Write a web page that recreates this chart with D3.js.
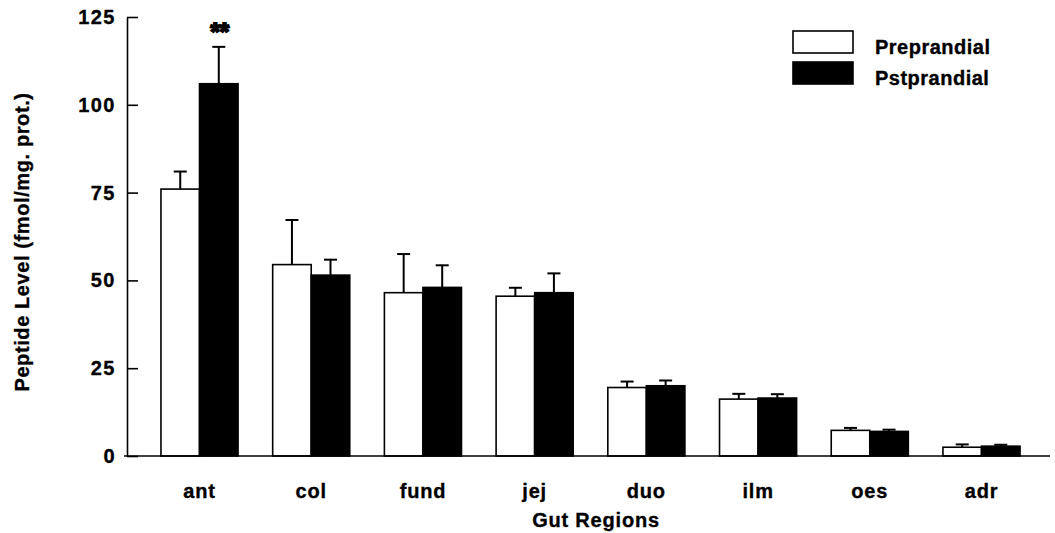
<!DOCTYPE html>
<html>
<head>
<meta charset="utf-8">
<script src="https://cdn.jsdelivr.net/npm/d3@7/dist/d3.min.js"></script>
<style>
  html, body { margin: 0; padding: 0; background: #fff; }
  svg { display: block; }
  text { font-family: "Liberation Sans", Arial, Helvetica, sans-serif; font-weight: bold; fill: #000;
         stroke: #000; stroke-width: 0.35px; }
</style>
</head>
<body>
<script>
// Gut regions and peptide levels (fmol/mg protein), mean and SEM
const categories = ["ant", "col", "fund", "jej", "duo", "ilm", "oes", "adr"];
const preprandial = [76, 54.5, 46.5, 45.5, 19.5, 16.2, 7.3, 2.5];
const preprandialSem = [5, 12.7, 11, 2.4, 1.7, 1.5, 0.7, 0.8];
const postprandial = [106, 51.5, 48, 46.5, 20, 16.5, 7, 2.8];
const postprandialSem = [10.5, 4.4, 6.3, 5.5, 1.5, 1.1, 0.5, 0.4];
const seriesNames = ["Preprandial", "Pstprandial"];
const yTicks = [0, 25, 50, 75, 100, 125];
const significance = [{ category: "ant", series: "Pstprandial", label: "**" }];

const W = 1055, H = 533;
const svg = d3.select("body").append("svg").attr("width", W).attr("height", H);

const x = d3.scaleBand().domain(categories).range([126, 1055])
  .paddingInner(0.31).paddingOuter(0.313);
const xs = d3.scaleBand().domain(seriesNames).range([0, x.bandwidth()]).padding(0);
const y = d3.scaleLinear().domain([0, 125]).range([456, 17]);

const rows = categories.map((c, i) => ({
  category: c,
  bars: [
    { series: "Preprandial", value: preprandial[i], sem: preprandialSem[i] },
    { series: "Pstprandial", value: postprandial[i], sem: postprandialSem[i] }
  ]
}));
const fill = { Preprandial: "#fff", Pstprandial: "#000" };

// Bars
const groups = svg.append("g").selectAll("g").data(rows).join("g")
  .attr("transform", d => `translate(${x(d.category)},0)`);

groups.selectAll("rect").data(d => d.bars).join("rect")
  .attr("x", d => xs(d.series))
  .attr("y", d => y(d.value))
  .attr("width", xs.bandwidth())
  .attr("height", d => y(0) - y(d.value))
  .attr("fill", d => fill[d.series])
  .attr("stroke", "#000")
  .attr("stroke-width", 1.6);

// Error bars (upper SEM)
const capHalf = 6.5;
const err = groups.selectAll("g.err").data(d => d.bars).join("g").attr("class", "err")
  .attr("transform", d => `translate(${xs(d.series) + xs.bandwidth() / 2},0)`);
err.append("line")
  .attr("x1", 0).attr("x2", 0)
  .attr("y1", d => y(d.value)).attr("y2", d => y(d.value + d.sem))
  .attr("stroke", "#000").attr("stroke-width", 2);
err.append("line")
  .attr("x1", -capHalf).attr("x2", capHalf)
  .attr("y1", d => y(d.value + d.sem)).attr("y2", d => y(d.value + d.sem))
  .attr("stroke", "#000").attr("stroke-width", 2);

// Significance markers
significance.forEach(s => {
  const i = categories.indexOf(s.category);
  const v = s.series === "Preprandial" ? preprandial[i] + preprandialSem[i] : postprandial[i] + postprandialSem[i];
  svg.append("text")
    .attr("x", x(s.category) + xs(s.series) + xs.bandwidth() / 2 + 1)
    .attr("y", y(v) - 7)
    .attr("text-anchor", "middle")
    .style("font-size", "24px")
    .style("stroke-width", "2px")
    .text(s.label);
});

// Y axis with inward ticks
const yAxis = d3.axisLeft(y).tickValues(yTicks).tickSizeInner(-11).tickSizeOuter(0).tickPadding(11);
const gy = svg.append("g").attr("transform", "translate(127,0)").call(yAxis);
gy.select(".domain").attr("stroke-width", 1.6);
gy.selectAll(".tick line").attr("stroke-width", 1.6);
gy.selectAll(".tick text").style("font-size", "20px").style("letter-spacing", "1.5px")
  .style("font-family", "'Liberation Sans', Arial, sans-serif").style("font-weight", "bold");

// X axis line and category labels
const xAxis = d3.axisBottom(x).tickSize(0).tickPadding(28);
const gx = svg.append("g").attr("transform", `translate(0,${y(0)})`).call(xAxis);
gx.select(".domain").attr("d", `M124,0H1050`).attr("stroke-width", 1.6);
gx.selectAll(".tick text").style("font-size", "20px").style("letter-spacing", "0.8px")
  .style("font-family", "'Liberation Sans', Arial, sans-serif").style("font-weight", "bold");

// Axis titles
svg.append("text")
  .attr("x", 596).attr("y", 527)
  .attr("text-anchor", "middle")
  .style("font-size", "20px").style("letter-spacing", "0.8px")
  .text("Gut Regions");

svg.append("text")
  .attr("transform", "translate(29,242) rotate(-90)")
  .attr("text-anchor", "middle")
  .style("font-size", "20px").style("letter-spacing", "0.6px")
  .text("Peptide Level (fmol/mg. prot.)");

// Legend
const legend = svg.append("g").attr("transform", "translate(793,31)");
const li = legend.selectAll("g").data(seriesNames).join("g")
  .attr("transform", (d, i) => `translate(0,${i * 31})`);
li.append("rect").attr("width", 60).attr("height", 22)
  .attr("fill", d => fill[d]).attr("stroke", "#000").attr("stroke-width", 1.6);
li.append("text").attr("x", 82).attr("y", 23)
  .style("font-size", "20px").style("letter-spacing", "0.5px")
  .text(d => d);
</script>
</body>
</html>
